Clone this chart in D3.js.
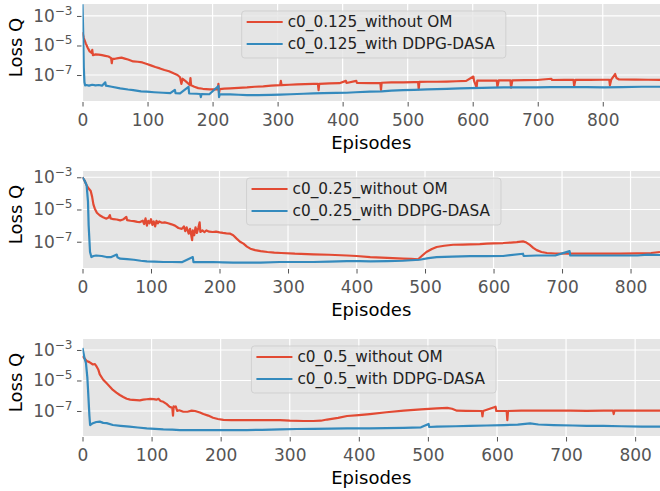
<!DOCTYPE html>
<html>
<head>
<meta charset="utf-8">
<script src="https://cdn.jsdelivr.net/npm/d3@7"></script>
<style>
  body { margin: 0; background: #fff; }
  text { font-family: "DejaVu Sans", sans-serif; }
</style>
</head>
<body>
<script>
// values: [episode, loss]
var lossNoOM_0125 = [[0,7.9e-5],[2,3.2e-5],[5,1.4e-5],[8,7.1e-6],[11,4.0e-6],[14,3.2e-6],[15,5.0e-6],[16,2.2e-6],[20,2.5e-6],[25,2.4e-6],[30,2.2e-6],[35,2.0e-6],[40,1.8e-6],[44,1.4e-6],[45,6.3e-7],[46,1.26e-6],[50,1.26e-6],[55,1.4e-6],[60,1.5e-6],[65,1.3e-6],[70,1.12e-6],[78,8.3e-7],[85,7.9e-7],[92,7.1e-7],[99,5.6e-7],[105,4.5e-7],[112,3.5e-7],[119,2.8e-7],[126,2.2e-7],[133,1.8e-7],[140,1.3e-7],[146,1.0e-7],[150,7.1e-8],[152,2.5e-8],[154,5.6e-8],[158,4.0e-8],[162,2.8e-8],[165,2.1e-8],[166,6.3e-8],[167,2.0e-8],[172,1.6e-8],[178,1.3e-8],[185,1.17e-8],[190,1.12e-8],[196,1.07e-8],[203,1.07e-8],[208,1.1e-8],[209,2.5e-8],[210,6.3e-9],[211,1.12e-8],[218,1.2e-8],[227,1.26e-8],[240,1.35e-8],[253,1.45e-8],[265,1.6e-8],[278,1.7e-8],[290,1.9e-8],[304,2.1e-8],[305,4.0e-8],[306,2.1e-8],[318,2.2e-8],[330,2.3e-8],[342,2.4e-8],[355,2.5e-8],[362,2.5e-8],[363,9.5e-9],[364,2.5e-8],[380,2.7e-8],[395,2.8e-8],[405,4.0e-8],[406,2.9e-8],[421,4.0e-8],[422,2.9e-8],[442,2.8e-8],[458,2.8e-8],[459,1.0e-8],[460,3.0e-8],[475,3.2e-8],[493,3.2e-8],[510,3.3e-8],[516,3.3e-8],[517,1.12e-8],[518,3.4e-8],[530,3.5e-8],[545,3.5e-8],[560,3.6e-8],[575,3.8e-8],[590,4.0e-8],[601,7.9e-8],[602,4.2e-8],[606,1.4e-8],[607,4.2e-8],[622,4.2e-8],[637,4.2e-8],[638,1.6e-8],[640,4.3e-8],[658,4.3e-8],[659,1.4e-8],[661,4.4e-8],[680,4.5e-8],[699,4.6e-8],[721,5.6e-8],[722,4.6e-8],[740,4.7e-8],[755,4.7e-8],[756,1.8e-8],[758,4.7e-8],[780,4.7e-8],[800,4.8e-8],[810,4.8e-8],[811,2.0e-8],[813,4.8e-8],[819,1.17e-7],[821,6.3e-8],[825,5.0e-8],[850,4.9e-8],[870,4.8e-8],[888,4.7e-8]];

var lossDasa_0125 = [[0,6.3e-3],[1,1.0e-4],[2,3.2e-7],[3,3.2e-8],[4,2.0e-8],[6,2.1e-8],[10,1.9e-8],[15,2.2e-8],[20,2.0e-8],[25,2.1e-8],[30,1.9e-8],[35,3.2e-8],[36,1.9e-8],[45,1.6e-8],[58,1.26e-8],[70,1.05e-8],[78,9.5e-9],[90,7.9e-9],[99,7.4e-9],[110,6.8e-9],[124,6.3e-9],[135,6.0e-9],[142,1.0e-8],[143,6.0e-9],[150,5.8e-9],[163,1.6e-8],[164,5.6e-9],[175,5.4e-9],[181,5.2e-9],[182,3.2e-9],[183,5.2e-9],[195,5.0e-9],[209,1.8e-8],[210,3.2e-9],[211,5.0e-9],[227,4.9e-9],[240,4.6e-9],[253,4.4e-9],[270,4.4e-9],[290,4.5e-9],[304,4.7e-9],[320,5.0e-9],[340,5.4e-9],[355,5.8e-9],[370,5.9e-9],[390,6.2e-9],[406,6.3e-9],[420,6.8e-9],[442,7.4e-9],[460,7.9e-9],[475,8.7e-9],[493,9.5e-9],[510,1.0e-8],[530,1.07e-8],[545,1.12e-8],[560,1.17e-8],[580,1.26e-8],[596,1.3e-8],[615,1.35e-8],[630,1.4e-8],[648,1.45e-8],[670,1.45e-8],[699,1.45e-8],[720,1.5e-8],[750,1.55e-8],[775,1.5e-8],[802,1.45e-8],[830,1.5e-8],[860,1.6e-8],[888,1.6e-8]];

var lossNoOM_025 = [[0,1.0e-3],[3,6.3e-4],[6,3.2e-4],[9,2.0e-4],[12,1.4e-4],[14,6.3e-5],[16,2.0e-5],[18,1.12e-5],[21,6.3e-6],[25,4.4e-6],[30,3.3e-6],[35,2.7e-6],[38,3.2e-6],[40,4.5e-6],[41,2.8e-6],[45,2.5e-6],[50,2.4e-6],[55,2.1e-6],[60,2.5e-6],[64,3.5e-6],[65,2.2e-6],[70,2.0e-6],[75,1.9e-6],[80,1.7e-6],[84,1.66e-6],[88,2.0e-6],[90,1.26e-6],[92,2.8e-6],[94,1.0e-6],[96,2.0e-6],[98,1.4e-6],[100,2.5e-6],[102,1.12e-6],[104,1.8e-6],[106,8.9e-7],[108,2.0e-6],[110,1.4e-6],[112,1.8e-6],[116,1.5e-6],[120,1.6e-6],[125,1.4e-6],[130,1.2e-6],[135,1.0e-6],[140,7.1e-7],[145,6.3e-7],[148,8.9e-7],[150,4.5e-7],[152,7.9e-7],[155,3.2e-7],[157,6.3e-7],[160,1.26e-7],[161,5.0e-7],[163,2.5e-7],[165,7.9e-7],[167,3.5e-7],[169,7.1e-7],[171,1.6e-6],[172,4.0e-7],[175,5.0e-7],[178,4.0e-7],[181,5.0e-7],[185,4.2e-7],[190,4.0e-7],[195,4.2e-7],[200,3.8e-7],[205,3.5e-7],[210,3.3e-7],[215,3.2e-7],[220,2.5e-7],[225,1.55e-7],[230,1.0e-7],[235,7.6e-8],[240,5.0e-8],[245,3.7e-8],[252,3.0e-8],[260,2.6e-8],[270,2.3e-8],[280,2.1e-8],[290,2.0e-8],[310,1.8e-8],[337,1.66e-8],[360,1.55e-8],[386,1.4e-8],[400,1.3e-8],[420,1.12e-8],[445,1.0e-8],[468,8.9e-9],[480,8.5e-9],[490,8.1e-9],[496,1.4e-8],[502,2.3e-8],[510,3.5e-8],[517,4.7e-8],[528,5.6e-8],[541,6.5e-8],[555,6.6e-8],[566,6.8e-8],[580,7.1e-8],[590,7.6e-8],[600,7.9e-8],[614,8.3e-8],[625,8.9e-8],[634,9.5e-8],[643,1.05e-7],[648,8.9e-8],[653,6.3e-8],[658,4.2e-8],[663,3.0e-8],[670,2.3e-8],[678,2.0e-8],[690,1.86e-8],[712,1.8e-8],[735,1.8e-8],[761,1.8e-8],[785,1.8e-8],[810,1.9e-8],[830,2.0e-8],[843,2.3e-8]];

var lossDasa_025 = [[0,1.0e-3],[3,6.3e-4],[6,3.2e-4],[8,3.2e-5],[9,1.0e-6],[11,2.3e-8],[13,1.12e-8],[16,1.3e-8],[20,1.4e-8],[28,1.3e-8],[35,1.12e-8],[42,1.12e-8],[50,1.6e-8],[51,1.07e-8],[55,8.9e-9],[65,8.3e-9],[75,7.6e-9],[85,6.6e-9],[94,6.0e-9],[105,5.8e-9],[118,5.5e-9],[130,5.5e-9],[145,5.4e-9],[161,1.12e-8],[162,5.4e-9],[175,5.4e-9],[190,5.5e-9],[205,5.2e-9],[220,5.0e-9],[240,5.0e-9],[260,5.1e-9],[288,5.5e-9],[310,5.5e-9],[337,5.5e-9],[360,5.9e-9],[386,6.3e-9],[405,6.2e-9],[420,6.0e-9],[445,6.3e-9],[468,6.6e-9],[492,7.6e-9],[505,9.5e-9],[517,1.12e-8],[540,1.2e-8],[566,1.26e-8],[590,1.26e-8],[614,1.3e-8],[643,1.8e-8],[644,1.3e-8],[663,1.4e-8],[690,1.4e-8],[711,2.6e-8],[712,1.4e-8],[740,1.4e-8],[761,1.4e-8],[785,1.4e-8],[810,1.4e-8],[825,1.6e-8],[843,1.5e-8]];

var lossNoOM_05 = [[0,4.0e-4],[3,2.8e-4],[6,1.9e-4],[10,1.6e-4],[15,1.12e-4],[18,1.2e-4],[20,8.9e-5],[23,5.0e-5],[25,2.5e-5],[30,1.12e-5],[35,6.5e-6],[40,3.8e-6],[44,2.4e-6],[49,1.6e-6],[54,1.12e-6],[59,8.3e-7],[64,6.3e-7],[69,5.6e-7],[73,5.4e-7],[78,5.2e-7],[83,5.0e-7],[88,5.5e-7],[93,5.9e-7],[98,6.3e-7],[103,6.0e-7],[107,5.5e-7],[110,6.3e-7],[113,4.5e-7],[117,4.0e-7],[122,2.8e-7],[126,1.9e-7],[130,1.6e-7],[131,5.0e-8],[132,2.0e-7],[133,1.8e-7],[135,2.0e-7],[137,1.0e-7],[140,1.12e-7],[146,8.9e-8],[152,8.9e-8],[158,1.05e-7],[163,1.0e-7],[170,7.9e-8],[175,6.3e-8],[182,5.0e-8],[189,3.6e-8],[196,3.0e-8],[204,2.6e-8],[215,2.5e-8],[238,2.5e-8],[260,2.5e-8],[286,2.5e-8],[300,2.3e-8],[320,2.2e-8],[334,2.2e-8],[345,2.3e-8],[354,2.75e-8],[370,3.5e-8],[383,4.7e-8],[400,5.4e-8],[416,6.3e-8],[440,8.3e-8],[465,1.05e-7],[490,1.26e-7],[513,1.5e-7],[528,1.6e-7],[535,1.4e-7],[542,1.05e-7],[555,1.02e-7],[578,1.0e-7],[579,4.5e-8],[580,1.0e-7],[598,1.9e-7],[599,1.0e-7],[614,1.0e-7],[615,2.5e-8],[616,1.0e-7],[635,1.05e-7],[658,1.05e-7],[680,1.07e-7],[706,1.05e-7],[730,1.02e-7],[754,1.05e-7],[768,1.05e-7],[769,6.3e-8],[770,1.05e-7],[790,1.07e-7],[803,1.05e-7],[820,1.07e-7],[836,1.05e-7]];

var lossDasa_05 = [[0,1.35e-3],[3,2.8e-4],[5,1.4e-4],[7,1.6e-5],[8,2.5e-6],[10,5.0e-8],[11,1.2e-8],[13,1.4e-8],[15,1.55e-8],[20,1.9e-8],[25,2.0e-8],[30,1.66e-8],[35,1.6e-8],[44,1.2e-8],[55,1.07e-8],[68,9.3e-9],[80,8.3e-9],[93,7.2e-9],[105,6.8e-9],[117,6.3e-9],[130,6.0e-9],[141,5.6e-9],[165,5.6e-9],[189,5.6e-9],[210,5.5e-9],[238,5.6e-9],[260,5.8e-9],[286,6.3e-9],[310,6.6e-9],[334,6.8e-9],[360,6.9e-9],[383,7.2e-9],[416,7.2e-9],[440,7.6e-9],[465,7.9e-9],[490,8.5e-9],[501,1.4e-8],[502,8.9e-9],[513,9.3e-9],[540,1.0e-8],[561,1.05e-8],[585,1.12e-8],[610,1.2e-8],[630,1.26e-8],[648,1.55e-8],[660,1.3e-8],[682,1.2e-8],[710,1.12e-8],[730,1.05e-8],[754,1.05e-8],[780,1.0e-8],[810,9.5e-9],[836,9.3e-9]];

var seriesNames = [
  ['c0_0.125_without OM', 'c0_0.125_with DDPG-DASA'],
  ['c0_0.25_without OM', 'c0_0.25_with DDPG-DASA'],
  ['c0_0.5_without OM', 'c0_0.5_with DDPG-DASA']
];
var xTicks = [0, 100, 200, 300, 400, 500, 600, 700, 800];
var yTickExps = [-3, -5, -7];
var colors = ['#E24A33', '#348ABD'];

var width = 660, height = 491;
var left = 82.5, right = 660;

// axes boxes
var panels = [
  { top: 4,   bottom: 101, xMax: 888, yDom: [1.74e-9, 6.46e-3], red: lossNoOM_0125, blue: lossDasa_0125, names: seriesNames[0] },
  { top: 171, bottom: 268, xMax: 843, yDom: [2.34e-9, 2.45e-3], red: lossNoOM_025,  blue: lossDasa_025,  names: seriesNames[1] },
  { top: 339, bottom: 436, xMax: 836, yDom: [2.29e-9, 5.25e-3], red: lossNoOM_05,   blue: lossDasa_05,   names: seriesNames[2] }
];

var svg = d3.select('body').append('svg')
  .attr('width', width)
  .attr('height', height);

panels.forEach((p, i) => {
  var x = d3.scaleLinear().domain([0, p.xMax]).range([left, right]);
  var y = d3.scaleLog().domain(p.yDom).range([p.bottom, p.top]);
  var g = svg.append('g');

  g.append('rect')
    .attr('x', left).attr('y', p.top)
    .attr('width', right - left).attr('height', p.bottom - p.top)
    .attr('fill', '#E5E5E5');

  // grid
  g.selectAll('.vgrid').data(xTicks).join('line')
    .attr('x1', d => x(d)).attr('x2', d => x(d))
    .attr('y1', p.top).attr('y2', p.bottom)
    .attr('stroke', '#fff').attr('stroke-width', 1.2);
  g.selectAll('.hgrid').data(yTickExps).join('line')
    .attr('x1', left).attr('x2', right)
    .attr('y1', d => y(Math.pow(10, d))).attr('y2', d => y(Math.pow(10, d)))
    .attr('stroke', '#fff').attr('stroke-width', 1.2);

  // lines
  var clipId = 'clip' + i;
  svg.append('clipPath').attr('id', clipId).append('rect')
    .attr('x', left).attr('y', p.top)
    .attr('width', right - left).attr('height', p.bottom - p.top);
  var line = d3.line().x(d => x(d[0])).y(d => y(d[1]));
  [p.red, p.blue].forEach((s, k) => {
    g.append('path')
      .attr('d', line(s))
      .attr('clip-path', 'url(#' + clipId + ')')
      .attr('fill', 'none')
      .attr('stroke', colors[k])
      .attr('stroke-width', 2.2)
      .attr('stroke-linejoin', 'round');
  });

  // x axis
  var xa = g.append('g')
    .attr('transform', 'translate(0,' + p.bottom + ')')
    .call(d3.axisBottom(x).tickValues(xTicks).tickSize(4.5).tickFormat(d3.format('d')));
  xa.select('.domain').remove();
  xa.selectAll('line').attr('stroke', '#555').attr('transform', 'translate(0,1)');
  xa.selectAll('text')
    .attr('y', 25).attr('dy', null)
    .attr('fill', '#555')
    .style('font-size', '17px');

  // y axis
  var ya = g.append('g')
    .attr('transform', 'translate(' + left + ',0)')
    .call(d3.axisLeft(y).tickValues(yTickExps.map(e => Math.pow(10, e))).tickSize(4.5).tickFormat(''));
  ya.select('.domain').remove();
  ya.selectAll('line').attr('stroke', '#555').attr('transform', 'translate(-1,0)');
  ya.selectAll('.tick').each(function(d) {
    var t = d3.select(this).append('text')
      .attr('x', -10).attr('y', 5.5)
      .attr('text-anchor', 'end')
      .attr('fill', '#555')
      .style('font-size', '17px');
    t.append('tspan').text('10');
    t.append('tspan').attr('dy', -7).style('font-size', '12px')
      .text('\u2212' + Math.round(-Math.log10(d)));
  });

  // axis labels
  g.append('text')
    .attr('x', (left + right) / 2).attr('y', p.bottom + 47.5)
    .attr('text-anchor', 'middle')
    .style('font-size', '18px')
    .text('Episodes');
  g.append('text')
    .attr('transform', 'translate(21.5,' + ((p.top + p.bottom) / 2 - 5) + ') rotate(-90)')
    .attr('text-anchor', 'middle')
    .style('font-size', '18px')
    .text('Loss Q');

  // legend
  var lg = g.append('g');
  var box = lg.append('rect')
    .attr('y', p.top + 7).attr('height', 47).attr('rx', 3)
    .attr('fill', '#E5E5E5').attr('fill-opacity', 0.8)
    .attr('stroke', '#ccc').attr('stroke-opacity', 0.8);
  var texts = p.names.map((n, k) => lg.append('text')
    .attr('y', p.top + 18 + 22 * k).attr('dy', '0.35em')
    .style('font-size', '15.3px')
    .attr('fill', '#222')
    .text(n));
  var tw = d3.max(texts, t => t.node().getComputedTextLength());
  var bw = 46 + tw + 11;
  var bx = (left + right) / 2 + 2.5 - bw / 2;
  box.attr('x', bx).attr('width', bw);
  texts.forEach(t => t.attr('x', bx + 46));
  p.names.forEach((n, k) => {
    lg.append('line')
      .attr('x1', bx + 5).attr('x2', bx + 41)
      .attr('y1', p.top + 18 + 22 * k).attr('y2', p.top + 18 + 22 * k)
      .attr('stroke', colors[k]).attr('stroke-width', 2);
  });
});
</script>
</body>
</html>
